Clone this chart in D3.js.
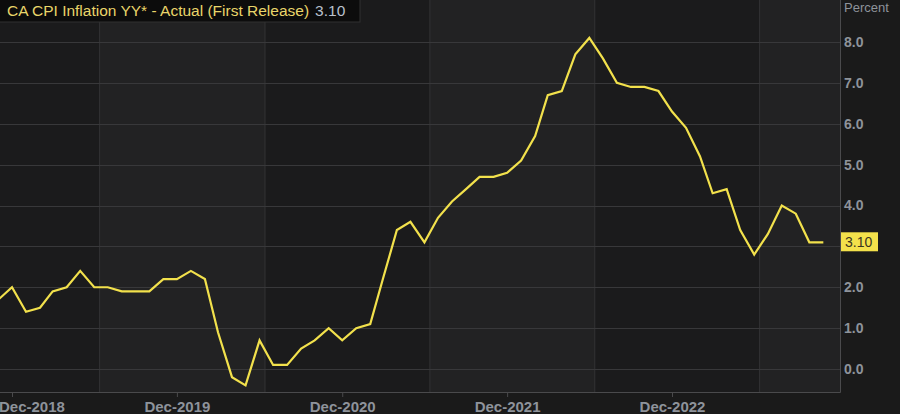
<!DOCTYPE html>
<html>
<head>
<meta charset="utf-8">
<script src="https://cdn.jsdelivr.net/npm/d3@7"></script>
<style>
  html, body { margin: 0; padding: 0; background: #1a1a1a; }
  svg { display: block; }
  text { font-family: "Liberation Sans", Arial, sans-serif; }
</style>
</head>
<body>
<svg id="chart" width="900" height="414"></svg>
<script>
// ---- DATA ----
const months = [
  "2018-11","2018-12","2019-01","2019-02","2019-03","2019-04","2019-05","2019-06","2019-07","2019-08","2019-09","2019-10","2019-11","2019-12",
  "2020-01","2020-02","2020-03","2020-04","2020-05","2020-06","2020-07","2020-08","2020-09","2020-10","2020-11","2020-12",
  "2021-01","2021-02","2021-03","2021-04","2021-05","2021-06","2021-07","2021-08","2021-09","2021-10","2021-11","2021-12",
  "2022-01","2022-02","2022-03","2022-04","2022-05","2022-06","2022-07","2022-08","2022-09","2022-10","2022-11","2022-12",
  "2023-01","2023-02","2023-03","2023-04","2023-05","2023-06","2023-07","2023-08","2023-09","2023-10","2023-11"
];
const cpiValues = [
  1.7, 2.0, 1.4, 1.5, 1.9, 2.0, 2.4, 2.0, 2.0, 1.9, 1.9, 1.9, 2.2, 2.2,
  2.4, 2.2, 0.9, -0.2, -0.4, 0.7, 0.1, 0.1, 0.5, 0.7, 1.0, 0.7,
  1.0, 1.1, 2.2, 3.4, 3.6, 3.1, 3.7, 4.1, 4.4, 4.7, 4.7, 4.8,
  5.1, 5.7, 6.7, 6.8, 7.7, 8.1, 7.6, 7.0, 6.9, 6.9, 6.8, 6.3,
  5.9, 5.2, 4.3, 4.4, 3.4, 2.8, 3.3, 4.0, 3.8, 3.1, 3.1
];
const xTickMonths = ["2018-12","2019-12","2020-12","2021-12","2022-12"];
const xTickLabels = ["Dec-2018","Dec-2019","Dec-2020","Dec-2021","Dec-2022"];
const yGridValues = [0,1,2,3,4,5,6,7,8];
const yTickLabelValues = [0,1,2,4,5,6,7,8];
const seriesName = "CA CPI Inflation YY* - Actual (First Release)";
const lastValueLabel = "3.10";
const yAxisTitle = "Percent";

// ---- LAYOUT ----
const svg = d3.select("#chart");
const W = 900, H = 414;
const plotRight = 840, plotBottom = 392;

const parse = d3.timeParse("%Y-%m");
const dates = months.map(parse);
const data = dates.map((d, i) => ({ date: d, value: cpiValues[i] }));

const x = d3.scaleTime()
  .domain([parse("2018-12"), parse("2022-12")])
  .range([12, 672]);
const y = d3.scaleLinear().domain([0, 8]).range([369, 42]);

svg.append("rect").attr("width", W).attr("height", H).attr("fill", "#1a1a1a");

// background bands (alternating, boundaries mid-June)
const bandEdges = [-1000, ...[2019, 2020, 2021, 2022, 2023].map(yr => x(new Date(yr, 5, 13))), plotRight];
const bandG = svg.append("g");
for (let i = 0; i < bandEdges.length - 1; i++) {
  const x0 = Math.max(0, bandEdges[i]), x1 = Math.min(plotRight, bandEdges[i + 1]);
  bandG.append("rect")
    .attr("x", x0).attr("y", 0)
    .attr("width", x1 - x0).attr("height", plotBottom)
    .attr("fill", i % 2 === 0 ? "#1b1b1c" : "#222223");
}
bandEdges.slice(1, -1).forEach(bx => {
  bandG.append("line")
    .attr("x1", bx).attr("x2", bx).attr("y1", 0).attr("y2", plotBottom)
    .attr("stroke", "#333335").attr("stroke-width", 1);
});

// horizontal gridlines
svg.append("g").selectAll("line").data(yGridValues).join("line")
  .attr("x1", 0).attr("x2", plotRight)
  .attr("y1", d => Math.round(y(d)) + 0.5).attr("y2", d => Math.round(y(d)) + 0.5)
  .attr("stroke", "#38383a").attr("stroke-width", 1);

// plot frame (right + bottom)
svg.append("path")
  .attr("d", `M0,${plotBottom + 0.5}H${plotRight + 0.5}V0`)
  .attr("fill", "none").attr("stroke", "#4a4a4c").attr("stroke-width", 1);

// x axis
const xTickDates = xTickMonths.map(parse);
const xAxis = d3.axisBottom(x)
  .tickValues(xTickDates)
  .tickSize(5)
  .tickFormat((d, i) => xTickLabels[i]);
const gx = svg.append("g").attr("transform", `translate(0,${plotBottom})`).call(xAxis);
gx.select(".domain").remove();
gx.selectAll(".tick line").attr("stroke", "#4a4a4c");
gx.selectAll(".tick text")
  .attr("fill", "#8e939b").attr("font-size", 15).attr("font-weight", "bold")
  .attr("y", 20).attr("dy", 0)
  .attr("font-family", "'Liberation Sans', Arial, sans-serif")
  .each(function () {
    const t = d3.select(this);
    const bb = this.getBBox();
    const tr = d3.select(this.parentNode).attr("transform");
    const tx = +tr.match(/translate\(([-\d.]+)/)[1];
    if (tx + bb.x < 0) t.attr("x", -(tx + bb.x) - 1);
  });

// y axis (right)
const yAxis = d3.axisRight(y).tickValues(yTickLabelValues).tickSize(0).tickFormat(d3.format(".1f"));
const gy = svg.append("g").attr("transform", `translate(${plotRight},0)`).call(yAxis);
gy.select(".domain").remove();
gy.selectAll(".tick text")
  .attr("x", 4).attr("fill", "#8e939b").attr("font-size", 14).attr("font-weight", "bold")
  .attr("font-family", "'Liberation Sans', Arial, sans-serif");

svg.append("text")
  .attr("x", plotRight + 4).attr("y", 12)
  .attr("fill", "#8e939b").attr("font-size", 13)
  .text(yAxisTitle);

// line
const line = d3.line().x(d => x(d.date)).y(d => y(d.value));
svg.append("path")
  .datum(data)
  .attr("d", line)
  .attr("fill", "none")
  .attr("stroke", "#f2e14c")
  .attr("stroke-width", 2.2)
  .attr("stroke-linejoin", "miter");

// last value label
const last = data[data.length - 1];
const ly = y(last.value);
svg.append("rect")
  .attr("x", plotRight + 1).attr("y", ly - 10)
  .attr("width", 37).attr("height", 19)
  .attr("fill", "#f3e14b");
svg.append("text")
  .attr("x", plotRight + 5).attr("y", ly + 5)
  .attr("fill", "#3a3520").attr("font-size", 14)
  .text(lastValueLabel);

// legend box
svg.append("rect")
  .attr("x", -1).attr("y", -1).attr("width", 361).attr("height", 23)
  .attr("fill", "#0c0c0c").attr("stroke", "#303030");
const lt = svg.append("text").attr("x", 7).attr("y", 16).attr("font-size", 15.5);
lt.append("tspan").attr("fill", "#e9d56a").text(seriesName);
lt.append("tspan").attr("fill", "#b9c0cc").attr("dx", 6).text(last.value.toFixed(2));
</script>
</body>
</html>
